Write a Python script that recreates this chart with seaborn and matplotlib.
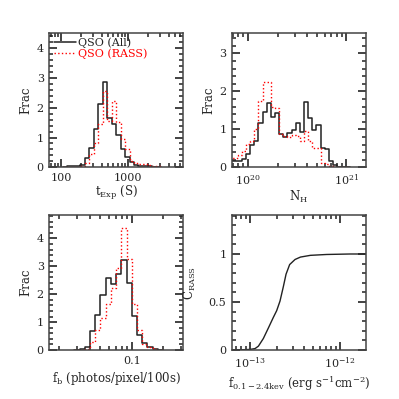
import numpy as np
import pandas as pd
import matplotlib
matplotlib.use("Agg")
import matplotlib.pyplot as plt
import seaborn as sns
from matplotlib.ticker import (MultipleLocator, NullFormatter, FuncFormatter,
                               LogLocator, FixedLocator)

# exposure time histogram (log10 t bins)
texp_lo, texp_step = 2.018, 0.0667
texp_all = [0.02, 0.03, 0.04, 0.05, 0.08, 0.30, 0.64, 1.29, 2.13, 2.88, 1.65,
            1.45, 1.10, 0.60, 0.34, 0.17, 0.09, 0.05, 0.04, 0.03, 0.02, 0.01]
texp_rass = [0.0, 0.0, 0.0, 0.01, 0.03, 0.13, 0.44, 0.81, 1.45, 2.56, 1.55,
             2.22, 1.52, 0.95, 0.60, 0.22, 0.15, 0.12, 0.10, 0.08, 0.05, 0.03]

# N_H histogram (log10 N_H bins)
nh_lo, nh_step = 19.811, 0.0421
nh_all = [0.17, 0.17, 0.17, 0.21, 0.35, 0.59, 0.70, 1.18, 1.46, 1.70, 1.32,
          1.42, 0.89, 0.81, 0.91, 0.98, 1.17, 0.94, 1.73, 1.31, 0.97, 1.12,
          0.50, 0.48, 0.16, 0.05, 0.01, 0.01, 0.0]
nh_rass = [0.25, 0.25, 0.33, 0.42, 0.62, 0.70, 1.02, 1.75, 2.25, 2.25, 1.60,
           1.55, 0.88, 0.82, 0.80, 0.84, 0.82, 0.70, 0.95, 0.68, 0.52, 0.52,
           0.12, 0.10, 0.04, 0.02, 0.01, 0.0, 0.0]

# background histogram (log10 f_b bins)
fb_lo, fb_step = -1.55, 0.05
fb_all = [0.01, 0.02, 0.10, 0.67, 1.24, 1.98, 2.58, 2.38, 2.74, 3.24, 2.40,
          1.22, 0.55, 0.25, 0.11, 0.04, 0.01]
fb_rass = [0.0, 0.0, 0.05, 0.29, 0.70, 1.15, 1.66, 2.22, 2.94, 4.37, 3.27,
           1.66, 0.70, 0.23, 0.11, 0.05, 0.01]

# RASS completeness curve
flux_log = [-13.20, -13.10, -13.00, -12.944, -12.907, -12.852, -12.796,
            -12.741, -12.704, -12.667, -12.63, -12.60, -12.56, -12.50,
            -12.44, -12.33, -12.15, -11.89, -11.71]
c_rass = [0.0, 0.002, 0.006, 0.015, 0.04, 0.12, 0.23, 0.34, 0.41, 0.51,
          0.66, 0.79, 0.89, 0.943, 0.968, 0.986, 0.995, 1.0, 1.0]

sns.set_theme(style="ticks")
plt.rcParams["font.family"] = ["DejaVu Serif"]
plt.rcParams["mathtext.fontset"] = "dejavuserif"

fig = plt.figure(figsize=(3.99, 3.99), dpi=100)
ax1 = fig.add_axes([0.1236, 0.5807, 0.3358, 0.3358])
ax2 = fig.add_axes([0.5815, 0.5807, 0.3358, 0.3358])
ax3 = fig.add_axes([0.1236, 0.1228, 0.3358, 0.3383])
ax4 = fig.add_axes([0.5815, 0.1228, 0.3358, 0.3383])


def step_hist(ax, lo, step, vals, **kw):
    edges = 10 ** (lo + step * np.arange(len(vals) + 1))
    df = pd.DataFrame({"x": edges, "y": list(vals) + [0.0]})
    sns.lineplot(data=df, x="x", y="y", ax=ax, drawstyle="steps-post",
                 estimator=None, sort=False, **kw)


def style(ax):
    ax.tick_params(which="both", direction="in", top=True, right=True,
                   bottom=True, left=True, color="#222222", labelsize=8, pad=4)
    ax.tick_params(which="major", length=6, width=1.2)
    ax.tick_params(which="minor", length=3, width=1.1)
    for s in ax.spines.values():
        s.set_color("#444444")
        s.set_linewidth(1.1)


def log_ticks(ax, majors):
    ax.xaxis.set_major_locator(FixedLocator(majors))
    ax.xaxis.set_minor_locator(LogLocator(base=10, subs=np.arange(2, 10) * 1.0, numticks=20))
    ax.xaxis.set_minor_formatter(NullFormatter())


fmt_g = FuncFormatter(lambda v, p: f"{v:g}")

# top-left: exposure time
step_hist(ax1, texp_lo, texp_step, texp_all, color="#222222", lw=1.1, label="QSO (All)")
step_hist(ax1, texp_lo, texp_step, texp_rass, color="red", lw=1.0, linestyle=":", label="QSO (RASS)")
ax1.set_xscale("log")
ax1.set_xlim(10 ** 1.821, 10 ** 3.821)
ax1.set_ylim(0, 4.5)
log_ticks(ax1, [100, 1000])
ax1.xaxis.set_major_formatter(fmt_g)
ax1.yaxis.set_major_locator(MultipleLocator(1))
ax1.yaxis.set_minor_locator(MultipleLocator(0.2))
ax1.set_xlabel(r"t$_{\rm Exp}$ (S)", fontsize=8.5, labelpad=1)
ax1.set_ylabel("Frac", fontsize=8.5, labelpad=3)
ax1.legend(loc="upper left", frameon=False, fontsize=8, handlelength=2.0,
           handletextpad=0.2, labelspacing=0.0, borderaxespad=0.1,
           borderpad=0.3, labelcolor="linecolor")
style(ax1)

# top-right: N_H
step_hist(ax2, nh_lo, nh_step, nh_all, color="#222222", lw=1.1)
step_hist(ax2, nh_lo, nh_step, nh_rass, color="red", lw=1.0, linestyle=":")
ax2.set_xscale("log")
ax2.set_xlim(10 ** 19.838, 10 ** 21.198)
ax2.set_ylim(0, 3.53)
log_ticks(ax2, [1e20, 1e21])
ax2.yaxis.set_major_locator(MultipleLocator(1))
ax2.yaxis.set_minor_locator(MultipleLocator(0.2))
ax2.set_xlabel(r"N$_{\rm H}$", fontsize=8.5, labelpad=1)
ax2.set_ylabel("Frac", fontsize=8.5, labelpad=3)
style(ax2)

# bottom-left: background
step_hist(ax3, fb_lo, fb_step, fb_all, color="#222222", lw=1.1)
step_hist(ax3, fb_lo, fb_step, fb_rass, color="red", lw=1.0, linestyle=":")
ax3.set_xscale("log")
ax3.set_xlim(10 ** -1.792, 10 ** -0.504)
ax3.set_ylim(0, 4.84)
log_ticks(ax3, [0.1])
ax3.xaxis.set_major_formatter(fmt_g)
ax3.yaxis.set_major_locator(MultipleLocator(1))
ax3.yaxis.set_minor_locator(MultipleLocator(0.2))
ax3.set_xlabel(r"f$_{\rm b}$ (photos/pixel/100s)", fontsize=8.5, labelpad=3)
ax3.set_ylabel("Frac", fontsize=8.5, labelpad=3)
style(ax3)

# bottom-right: completeness
curve = pd.DataFrame({"flux": 10 ** np.array(flux_log), "c": c_rass})
sns.lineplot(data=curve, x="flux", y="c", ax=ax4, color="#222222", lw=1.0,
             estimator=None, sort=False)
ax4.set_xscale("log")
ax4.set_xlim(10 ** -13.2, 1.94e-12)
ax4.set_ylim(0, 1.406)
log_ticks(ax4, [1e-13, 1e-12])
ax4.yaxis.set_major_locator(MultipleLocator(0.5))
ax4.yaxis.set_minor_locator(MultipleLocator(0.1))
ax4.yaxis.set_major_formatter(fmt_g)
ax4.set_xlabel(r"f$_{\rm 0.1-2.4kev}$ (erg s$^{-1}$cm$^{-2}$)", fontsize=8.5, labelpad=3)
ax4.set_ylabel(r"C$_{\rm RASS}$", fontsize=8.5, labelpad=8)
style(ax4)

fig.savefig("out.png", dpi=100)
